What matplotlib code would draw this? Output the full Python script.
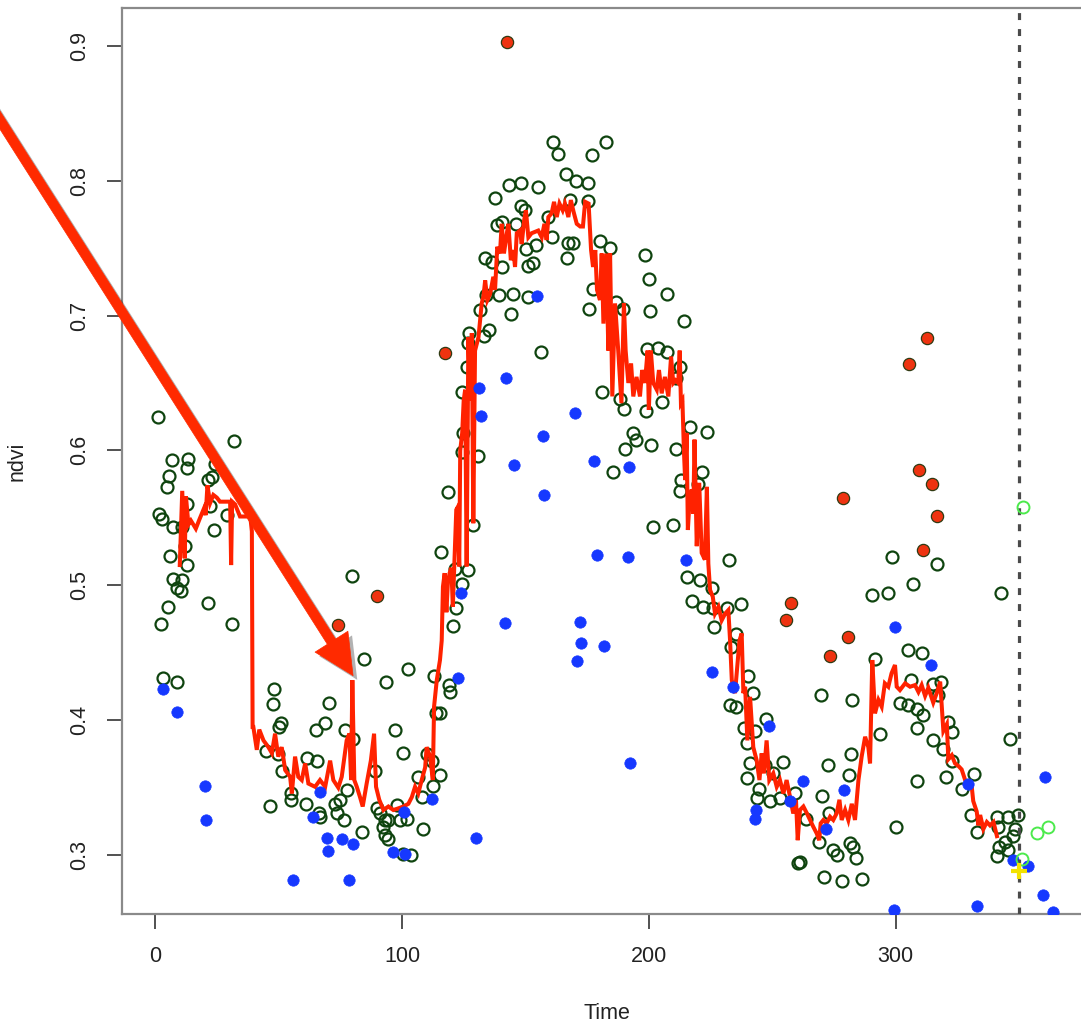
import matplotlib
matplotlib.use("Agg")
import matplotlib.pyplot as plt
import matplotlib.patheffects as pe

plt.rcParams['font.family'] = ['Liberation Sans', 'DejaVu Sans']
plt.rcParams['lines.scale_dashes'] = False

# ---------------- data ----------------
# observed ndvi (open dark-green circles)
obs_t = [1, 32, 7, 13.5, 13.1, 5.8, 4.7, 24.3, 21.6, 23, 12.8, 22.3, 1.6, 2.7, 7.2, 10.8, 29.3, 24, 12.2, 6.1,
         12.8, 7.4, 10.8, 8.8, 10.5, 5.4, 21.6, 2.3, 31.3, 79.7,
         3.4, 9.0, 84.8, 102.6, 93.4, 113, 48.3, 47.9, 70.5, 51, 50.3, 65.1, 68.7, 77, 80, 97.1, 100.6, 113.8, 119.2, 119.5,
         44.8, 49.9, 51.6, 61.4, 65.7, 89.1, 110, 112.1, 46.6, 55.1, 55.1, 61.2, 66.8, 66.3, 72.9, 73.8, 74.9, 77.6, 76.5, 84,
         89.8, 91.1, 93.2, 92.5, 94.2, 93.2, 94.5, 97.9, 99.2, 102.2, 100.6, 103.7, 106.6, 108, 108.7, 112.7, 115.4, 115.4,
         161.1, 163, 182.5, 177, 166.5, 170.5, 175.5, 143.5, 148.2, 154.9, 137.7, 148.4, 149.7, 168.2, 175.2, 138.4, 140.4,
         146.3, 159.3, 160.7, 167.2, 169.4, 180.4, 184.3, 154.1, 150.3, 167, 198.5, 133.7, 136.5, 153.2, 151, 140.5, 200,
         177.5, 207.4, 134.1, 139.4, 145.1, 151.2, 186.7, 189.7, 175.9, 200.5, 131.6, 144.2, 214.4, 127.3, 135.4, 133.4,
         126.9, 156.2, 199.1, 203.9, 207.4, 212.5, 126.2, 211, 180.9, 124.2, 188.3, 190, 198.9, 205.2, 193.7, 194.8, 190.5,
         201, 216.7, 223.5, 124.6,
         124.2, 130.9, 118.6, 128.9, 115.7, 121.5, 126.9, 124.2, 121.9, 120.8, 185.6, 221.4, 220, 213, 212.6, 201.6, 209.9,
         215.3, 220.7, 217.4, 222.1, 225.5, 226.4, 211, 232.5,
         237.3, 226.1, 231.5, 235.3, 233.3, 240, 242.1, 232.9, 235.3, 247.5, 238.6, 243, 239.9, 241, 247.1, 250.4, 254.5,
         239.9, 244.7, 243.9, 249.1, 253.1, 259.2, 263.5, 269, 260.3, 261.2, 270.3, 272.7, 281.9, 281.1, 273.1, 274.7, 276.1,
         281.5, 282.8, 283.8, 271, 278.1, 286.5, 300.1, 308.5, 315, 269.6, 282.3, 293.6, 291.6, 298.6, 290.5, 297, 307.1,
         316.9, 305.1, 310.5, 306.1, 301.7, 305.1, 308.5, 311.2, 308.5, 315.2, 317.3,
         318.3, 321.3, 322.7, 319.3, 322.7, 346.3, 320.4, 326.7, 331.8, 330.4, 332.8, 341.2, 345.6, 349.7, 341.6, 344.3,
         347.6, 348.3, 342, 340.9, 345.6, 342.6]
obs_v = [0.625, 0.607, 0.593, 0.594, 0.587, 0.581, 0.573, 0.590, 0.578, 0.580, 0.560, 0.559, 0.553, 0.549, 0.543, 0.543,
         0.552, 0.541, 0.529, 0.522, 0.515, 0.505, 0.504, 0.498, 0.496, 0.484, 0.487, 0.471, 0.471, 0.507,
         0.431, 0.428, 0.445, 0.438, 0.428, 0.433, 0.423, 0.412, 0.413, 0.398, 0.395, 0.393, 0.398, 0.393, 0.386, 0.393,
         0.376, 0.405, 0.426, 0.421, 0.377, 0.375, 0.362, 0.372, 0.370, 0.362, 0.375, 0.370, 0.336, 0.346, 0.341, 0.338,
         0.328, 0.331, 0.338, 0.331, 0.341, 0.348, 0.326, 0.317, 0.335, 0.331, 0.326, 0.321, 0.326, 0.315, 0.312, 0.337,
         0.326, 0.327, 0.301, 0.300, 0.358, 0.343, 0.319, 0.351, 0.359, 0.405,
         0.829, 0.820, 0.829, 0.819, 0.805, 0.800, 0.798, 0.797, 0.798, 0.795, 0.787, 0.781, 0.778, 0.786, 0.785, 0.767,
         0.769, 0.768, 0.773, 0.758, 0.754, 0.754, 0.755, 0.750, 0.752, 0.749, 0.743, 0.745, 0.743, 0.740, 0.739, 0.737,
         0.736, 0.727, 0.720, 0.716, 0.715, 0.715, 0.716, 0.714, 0.710, 0.705, 0.705, 0.703, 0.704, 0.701, 0.696, 0.687,
         0.689, 0.685, 0.680, 0.673, 0.675, 0.676, 0.673, 0.662, 0.662, 0.654, 0.643, 0.643, 0.638, 0.631, 0.629, 0.636,
         0.613, 0.608, 0.601, 0.604, 0.617, 0.614, 0.613,
         0.599, 0.596, 0.569, 0.545, 0.525, 0.512, 0.511, 0.501, 0.483, 0.470, 0.584, 0.584, 0.575, 0.578, 0.570, 0.543,
         0.545, 0.506, 0.504, 0.488, 0.484, 0.498, 0.469, 0.601, 0.519,
         0.486, 0.483, 0.483, 0.464, 0.454, 0.433, 0.420, 0.411, 0.410, 0.401, 0.394, 0.392, 0.383, 0.368, 0.367, 0.361,
         0.369, 0.357, 0.349, 0.342, 0.340, 0.342, 0.346, 0.327, 0.310, 0.294, 0.295, 0.344, 0.367, 0.375, 0.359, 0.331,
         0.304, 0.300, 0.309, 0.306, 0.298, 0.284, 0.281, 0.282, 0.321, 0.355, 0.385, 0.419, 0.415, 0.390, 0.445, 0.521,
         0.493, 0.494, 0.501, 0.516, 0.452, 0.450, 0.430, 0.413, 0.411, 0.408, 0.404, 0.394, 0.427, 0.419,
         0.428, 0.399, 0.391, 0.379, 0.370, 0.386, 0.358, 0.349, 0.360, 0.330, 0.317, 0.328, 0.328, 0.330, 0.321, 0.310,
         0.314, 0.319, 0.306, 0.299, 0.304, 0.494]

# low outliers (blue)
low_t = [3.1, 8.8, 20.3, 20.7, 56, 66.8, 64.1, 69.7, 70.1, 75.6, 80.1, 78.4, 96.5, 101.3, 101, 112.1, 122.8, 130,
         172.7, 182, 171, 192.5, 132.2, 170.1, 157, 145.5, 177.9, 192, 157.6, 179.1, 191.6, 214.9, 124.1, 141.6, 172.1,
         225.6, 154.6, 142, 131.4, 234, 248.6, 262.6, 257.2, 243.4, 243, 278.9, 271.6, 299.6, 314.1, 299.1, 329.4,
         347.4, 353.7, 360.5, 359.8, 363.6, 332.8]
low_v = [0.423, 0.406, 0.351, 0.326, 0.2815, 0.347, 0.328, 0.313, 0.303, 0.312, 0.308, 0.2815, 0.3025, 0.301, 0.332,
         0.3415, 0.431, 0.3126, 0.457, 0.4547, 0.444, 0.368, 0.6255, 0.628, 0.6106, 0.589, 0.5923, 0.588, 0.5667,
         0.5226, 0.5207, 0.519, 0.494, 0.4722, 0.473, 0.436, 0.7144, 0.6534, 0.6465, 0.4243, 0.396, 0.355, 0.340,
         0.3334, 0.3267, 0.348, 0.319, 0.4694, 0.441, 0.259, 0.353, 0.2964, 0.292, 0.358, 0.2704, 0.2575, 0.262]

# high outliers (red)
high_t = [142.6, 117.6, 74.2, 90, 305.4, 312.6, 309.6, 314.6, 316.6, 310.9, 278.5, 257.6, 255.6, 280.6, 273.5]
high_v = [0.903, 0.6724, 0.4705, 0.4922, 0.664, 0.6836, 0.5855, 0.5754, 0.5517, 0.5262, 0.565, 0.4866, 0.4742,
          0.4613, 0.4478]

# smoothed series (red line)
fit_t = [10, 11, 12, 12.5, 13.5, 14.5, 16.5, 18, 19.8, 20.5, 21.2, 22.3, 23.6, 25, 26.3, 28.4, 30.4, 30.8, 31.2, 32.4,
         34.4, 37.1, 38.5, 39.2, 39.5,
         39.8, 41.2, 42.2, 43.9, 45.9, 47.3, 48.6, 49.9, 51.3, 52.7, 54.7, 55.4, 56.7, 58, 59.4, 60.8, 62.1, 64.8, 66.8,
         68.9, 70.9, 72.2, 74.2, 75.6, 77.6, 78.7, 79.4, 79.9, 80.7, 81.7, 83, 84.1, 85.7, 87.4, 88.7, 89.5, 90.8, 92.5,
         94.5, 96.5, 98.5, 100.6, 102.6, 104, 105.3, 106.6, 108, 109.4, 110, 111.4, 112.5, 113, 114.1, 115.4, 116.1,
         116.6, 117.3, 118, 118.6, 119.3, 120, 120.6, 121.3, 122, 122.6, 123.2, 123.6, 124.4, 125, 125.6, 126.2, 126.9,
         127.6, 128.3, 128.9, 129.6, 131, 132.3, 133, 133.7, 134.6, 135.7, 137, 137.7, 138.6, 139.7, 140.4, 141.3,
         142.4, 143.1, 144.1, 145.1, 145.8, 146.5, 147.8, 148.5, 149.5, 150.2, 151.2, 152.5, 153.9, 155.2, 156.6,
         157.7, 158.6, 159.3, 160.6, 161.6, 162.7, 163.8, 165.1, 166, 167.4, 168.4, 169.5, 170.8, 172.2, 173.3, 174.2,
         175.6, 176.6, 177.4, 178.3, 179, 180.2, 180.9, 181.6, 182.7, 183.6, 184.3, 185.2, 186.3, 187.6, 188.9, 189.9,
         190.6, 191.7, 192.8, 193.7, 195, 196.4, 197.3, 198.4, 199.5, 200, 200.8, 201.8, 203.2, 204.1, 205.2, 206.5,
         207.9, 209, 209.9, 210.8, 211.9, 212.5, 213, 213.6, 214.2, 214.7, 215.3, 215.8, 216.5, 217.4, 218, 218.5,
         219.4, 220.4, 221.4, 222.7, 223.5, 224.1, 224.8, 225.9, 226.8, 228.2, 229.5, 230.9, 232.2, 232.9, 233.6,
         234.9, 235.8, 236.7, 237.6, 238.3, 239, 239.9, 241, 242.3, 243.7, 244.8, 245.7, 246.6, 247.7, 248.8, 250.4,
         251.8, 253.1, 254.5, 255.8, 257.2, 258.5, 259.6, 260.3, 261.2, 262.6, 264, 265.3, 266.6, 268, 269, 269.6,
         270.7, 272, 273.4, 274.7, 276.1, 277.2, 278.1, 279.5, 280.8, 282.2, 283.5, 284.9, 286.2, 287.6, 288.9, 289.6,
         290.5, 291.6, 293, 294.3, 295.6, 297, 298.3, 299.7, 300.4, 301.7, 303.8, 305.8, 307.8, 309.2, 310.5, 311.9,
         313.2, 315.2, 316.6, 318, 319.3, 320.7, 321.3, 322.7, 324, 325.4, 326.7, 328.1, 329.4, 330.8, 331.4, 332.8,
         333.5, 334.2, 335.5, 336.9, 338.2, 339.6, 341]
fit_v = [0.515, 0.570, 0.520, 0.566, 0.545, 0.548, 0.542, 0.549, 0.557, 0.552, 0.574, 0.561, 0.567, 0.565, 0.562,
         0.562, 0.562, 0.515, 0.562, 0.560, 0.551, 0.551, 0.552, 0.540, 0.395,
         0.395, 0.378, 0.393, 0.385, 0.380, 0.3756, 0.390, 0.373, 0.380, 0.363, 0.358, 0.3457, 0.373, 0.358, 0.3556,
         0.368, 0.353, 0.3506, 0.3556, 0.3506, 0.370, 0.3556, 0.350, 0.358, 0.385, 0.390, 0.3556, 0.4297, 0.3556,
         0.3506, 0.343, 0.336, 0.353, 0.370, 0.390, 0.3506, 0.341, 0.3334, 0.336, 0.3334, 0.3346, 0.336, 0.338, 0.343,
         0.3506, 0.3457, 0.3556, 0.365, 0.380, 0.373, 0.3556, 0.410, 0.4297, 0.4446, 0.459,
         0.499, 0.509, 0.480, 0.502, 0.509, 0.513, 0.484, 0.520, 0.556, 0.558, 0.514, 0.600, 0.613, 0.637, 0.645, 0.514,
         0.684, 0.637, 0.687, 0.546, 0.674, 0.684, 0.709, 0.714, 0.726, 0.7115, 0.716, 0.7287, 0.719, 0.751, 0.746,
         0.768, 0.746, 0.760, 0.768, 0.741, 0.7485, 0.736, 0.761, 0.763, 0.753, 0.7707, 0.778, 0.758, 0.761, 0.762,
         0.763, 0.758, 0.768, 0.756, 0.773, 0.7757, 0.7843, 0.773, 0.783, 0.778, 0.783, 0.773, 0.7856, 0.777, 0.768,
         0.766, 0.766, 0.7843, 0.783, 0.7485, 0.736, 0.7485, 0.719, 0.7115, 0.746, 0.694, 0.746, 0.674, 0.746, 0.640,
         0.709, 0.674, 0.635, 0.709, 0.674, 0.650, 0.6645, 0.640, 0.6545, 0.640, 0.6596, 0.650, 0.674, 0.630, 0.674,
         0.650, 0.645, 0.6596, 0.6423, 0.6545, 0.640, 0.6695, 0.650, 0.652, 0.650, 0.674, 0.635, 0.637, 0.600, 0.578,
         0.613, 0.541, 0.563, 0.571, 0.553, 0.608, 0.529, 0.576, 0.524, 0.519, 0.573, 0.516, 0.4965, 0.4915, 0.479,
         0.484, 0.474, 0.479, 0.4816, 0.459, 0.4297, 0.420, 0.4396, 0.459, 0.4643, 0.420, 0.4248, 0.385, 0.4173,
         0.380, 0.370, 0.3556, 0.3754, 0.3606, 0.385, 0.3556, 0.3606, 0.3506, 0.3556, 0.3457, 0.3556, 0.343, 0.3308,
         0.3408, 0.311, 0.3334, 0.336, 0.331, 0.326, 0.321, 0.316, 0.311, 0.3235, 0.326, 0.3235, 0.3284, 0.326, 0.331,
         0.341, 0.326, 0.3334, 0.326, 0.338, 0.326, 0.3556, 0.373, 0.3877, 0.380, 0.368, 0.4446, 0.405, 0.415, 0.410,
         0.4273, 0.4248, 0.4347, 0.4409, 0.4248, 0.4223, 0.4273, 0.4248, 0.426, 0.4209, 0.426, 0.418, 0.424, 0.413,
         0.420, 0.4286, 0.392, 0.397, 0.371, 0.374, 0.368, 0.366, 0.3635, 0.3557, 0.353, 0.3505, 0.340, 0.3323, 0.322,
         0.3297, 0.3193, 0.3245, 0.322, 0.3245, 0.314]

# new observations after the break
new_t = [351.7, 357.4, 361.6, 351]
new_v = [0.558, 0.3167, 0.321, 0.297]
pred_t = [350]
pred_v = [0.288]
break_t = 350

xlim = (-13.4, 379.5)
ylim = (0.2563, 0.928)
xticks = [0, 100, 200, 300]
yticks = [0.3, 0.4, 0.5, 0.6, 0.7, 0.8, 0.9]

# ---------------- figure ----------------
W, H = 1081, 1023
fig = plt.figure(figsize=(W / 100, H / 100), dpi=100)
ax = fig.add_axes([122 / W, (H - 914) / H, (1092 - 122) / W, (914 - 8) / H])

ax.plot(obs_t, obs_v, linestyle='none', marker='o', markersize=8.6, mfc='none',
        mec='#0f440f', mew=1.6, zorder=2)
ax.plot(fit_t, fit_v, color='#ff2200', lw=2.9, zorder=3, solid_joinstyle='miter')
ax.plot(low_t, low_v, linestyle='none', marker='o', markersize=8.2, mfc='#1638ff',
        mec='#1638ff', mew=0.5, zorder=4)
ax.plot(high_t, high_v, linestyle='none', marker='o', markersize=8.8, mfc='#ee3310',
        mec='#2f3a12', mew=0.9, zorder=4)
ax.axvline(break_t, color='#4a4a4a', lw=2.3, dashes=(5, 6.5), zorder=5)
ax.plot(new_t, new_v, linestyle='none', marker='o', markersize=8.6, mfc='none',
        mec='#4cea4c', mew=1.4, zorder=6)
ax.plot(pred_t, pred_v, linestyle='none', marker='+', markersize=12, mec='#f2e200',
        mew=3, zorder=6)

ax.set_xlim(*xlim)
ax.set_ylim(*ylim)
ax.set_xticks(xticks)
ax.set_yticks(yticks)
ax.set_xticklabels([str(t) for t in xticks])
ax.set_yticklabels([f"{t:.1f}" for t in yticks], rotation=90, va='center')

for s in ax.spines.values():
    s.set_color('#8a8a8a')
    s.set_linewidth(1.6)
ax.tick_params(axis='both', direction='out', length=11, width=1.2, color='#333333',
               labelsize=15.5, labelcolor='#222222', pad=12)

ax.set_xlabel('Time', fontsize=15.5, color='#222222', labelpad=26)
ax.set_ylabel('ndvi', fontsize=15.5, color='#222222', labelpad=30)

# annotation arrow pointing at the spike
ax.annotate('', xy=(80.2, 0.433), xycoords='data', xytext=(-30, 950), textcoords='figure pixels',
            annotation_clip=False,
            arrowprops=dict(arrowstyle='simple,head_length=2.9,head_width=2.8,tail_width=0.7',
                            mutation_scale=10, color='#ff2a00', lw=0.5, shrinkA=0, shrinkB=0,
                            path_effects=[pe.SimplePatchShadow(offset=(3, -3), shadow_rgbFace='black', alpha=0.3),
                                          pe.Normal()]),
            zorder=10)

fig.savefig('out.png', dpi=100)
